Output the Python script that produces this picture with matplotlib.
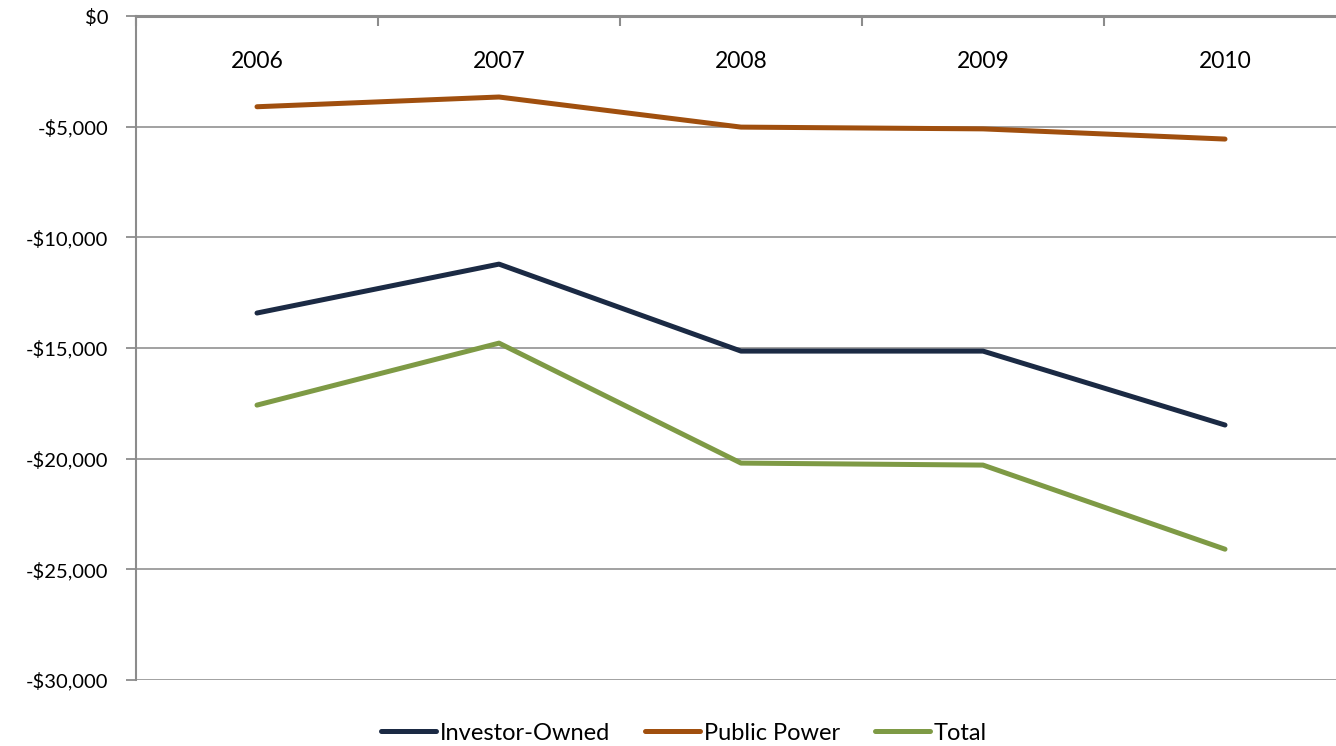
import numpy as np
import matplotlib.pyplot as plt
from matplotlib.ticker import FuncFormatter, MultipleLocator

plt.rcParams['font.family'] = ['Lato', 'DejaVu Sans']

years = ['2006', '2007', '2008', '2009', '2010']
investor_owned = [-13420, -11210, -15140, -15140, -18480]
public_power = [-4100, -3660, -5020, -5100, -5560]
total = [-17580, -14780, -20200, -20290, -24090]

series = [('Investor-Owned', investor_owned, '#1b2a44'),
          ('Public Power', public_power, '#a04f0e'),
          ('Total', total, '#7e9a45')]

fig = plt.figure(figsize=(13.36, 7.46), dpi=100)
ax = fig.add_axes([136/1336, 1-680/746, 1210/1336, 664/746])

x = np.arange(len(years))
for name, vals, col in series:
    ax.plot(x, vals, color=col, lw=3.6, solid_capstyle='round', label=name)

ax.set_xlim(-0.5, len(years)-0.5)
ax.set_ylim(-30000, 0)
ax.yaxis.set_major_locator(MultipleLocator(5000))
ax.yaxis.set_major_formatter(FuncFormatter(
    lambda v, p: '$0' if v == 0 else '-${:,.0f}'.format(abs(v))))
ax.grid(axis='y', color='#9a9a9a', lw=1.3)
ax.set_axisbelow(True)

for s in ['right', 'bottom']:
    ax.spines[s].set_visible(False)
ax.spines['left'].set_color('#8c8c8c')
ax.spines['left'].set_linewidth(1.5)
ax.spines['top'].set_color('#8c8c8c')
ax.spines['top'].set_linewidth(2.2)

ax.tick_params(axis='y', length=7, width=1.3, color='#8c8c8c', pad=13,
               labelsize=14.5, labelcolor='black')

# category boundaries as inward ticks on the top line
ax.xaxis.tick_top()
ax.set_xticks(np.arange(len(years)+1) - 0.5)
ax.set_xticklabels([])
ax.tick_params(axis='x', direction='in', length=7, width=1.5, color='#8c8c8c')

for i, yr in enumerate(years):
    ax.text(i, 1-45/664, yr, transform=ax.get_xaxis_transform(),
            ha='center', va='center', fontsize=16.5)

fig.legend(loc='center', bbox_to_anchor=(684/1336, 1-733/746), ncol=3,
           frameon=False, fontsize=17, handlelength=2.3, handletextpad=0.17,
           columnspacing=1.5)

fig.savefig('out.png', dpi=100)
